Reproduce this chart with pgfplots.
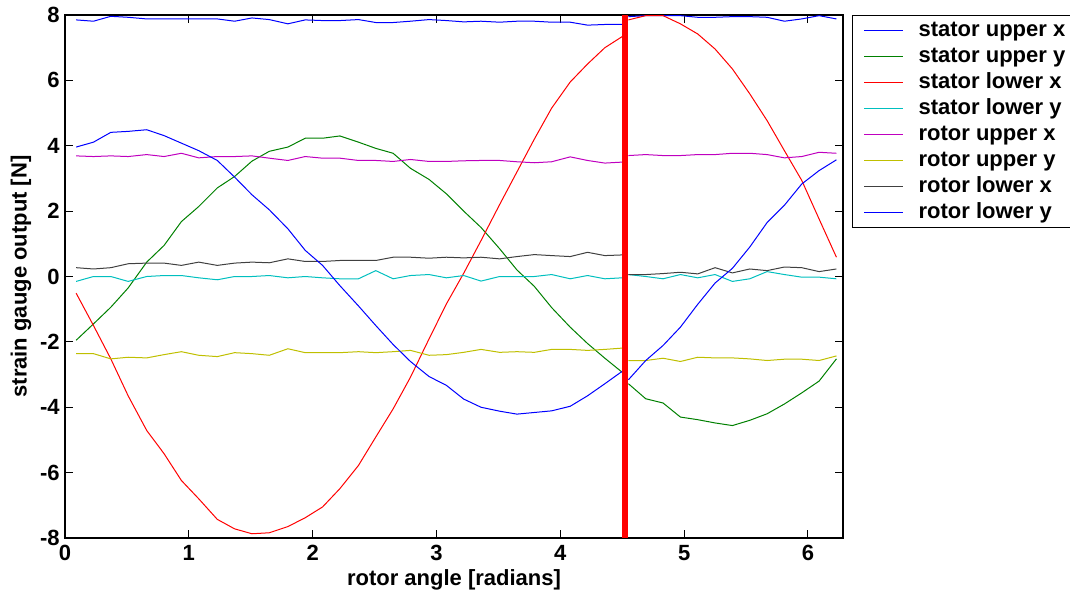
\documentclass[border=0pt]{standalone}
\usepackage{fontspec}
\setmainfont{Liberation Sans}
\usepackage{pgfplots}
\usepackage{pgfplotstable}
\pgfplotsset{compat=1.18}

\definecolor{mblue}{RGB}{0,0,255}
\definecolor{mgreen}{RGB}{0,128,0}
\definecolor{mred}{RGB}{255,0,0}
\definecolor{mcyan}{RGB}{0,191,191}
\definecolor{mmagenta}{RGB}{191,0,191}
\definecolor{myellow}{RGB}{191,191,0}
\definecolor{mblack}{RGB}{64,64,64}

% rotor angle and the eight gauges; the nan row breaks the lines at the marker
\pgfplotstableread{
x    sux   suy   slx   sly   rux   ruy   rlx   rly
0.09 7.85 -1.95 -0.51 -0.15 3.69 -2.36 0.27 3.96
0.23 7.81 -1.45 -1.50 0.00 3.67 -2.36 0.23 4.11
0.37 7.96 -0.94 -2.52 0.00 3.69 -2.52 0.27 4.41
0.51 7.93 -0.35 -3.65 -0.15 3.67 -2.47 0.39 4.44
0.66 7.88 0.44 -4.71 0.00 3.73 -2.49 0.41 4.49
0.80 7.88 0.95 -5.42 0.03 3.67 -2.39 0.41 4.31
0.94 7.88 1.68 -6.24 0.03 3.77 -2.30 0.34 4.08
1.08 7.88 2.14 -6.80 -0.04 3.63 -2.41 0.44 3.85
1.23 7.88 2.71 -7.43 -0.10 3.67 -2.45 0.34 3.55
1.37 7.81 3.06 -7.72 0.00 3.67 -2.33 0.41 3.04
1.51 7.91 3.53 -7.87 0.00 3.69 -2.36 0.44 2.50
1.65 7.86 3.83 -7.84 0.03 3.62 -2.41 0.42 2.04
1.80 7.73 3.96 -7.65 -0.04 3.55 -2.21 0.54 1.46
1.94 7.85 4.23 -7.38 0.00 3.67 -2.33 0.46 0.80
2.08 7.83 4.23 -7.05 -0.04 3.62 -2.33 0.46 0.34
2.22 7.83 4.30 -6.49 -0.07 3.62 -2.33 0.49 -0.28
2.37 7.86 4.11 -5.78 -0.07 3.55 -2.30 0.49 -0.90
2.51 7.77 3.92 -4.91 0.18 3.55 -2.33 0.49 -1.50
2.65 7.77 3.77 -4.05 -0.07 3.52 -2.30 0.59 -2.08
2.79 7.81 3.31 -3.08 0.03 3.58 -2.26 0.59 -2.60
2.94 7.86 2.97 -1.91 0.06 3.52 -2.41 0.56 -3.06
3.08 7.83 2.53 -0.84 -0.04 3.52 -2.39 0.59 -3.33
3.22 7.79 2.00 0.10 0.03 3.54 -2.32 0.57 -3.75
3.36 7.81 1.50 1.10 -0.14 3.55 -2.23 0.59 -4.00
3.51 7.78 0.85 2.20 0.00 3.55 -2.32 0.54 -4.12
3.65 7.81 0.20 3.20 0.00 3.51 -2.30 0.61 -4.21
3.79 7.81 -0.30 4.20 0.00 3.48 -2.32 0.67 -4.16
3.93 7.78 -0.95 5.15 0.06 3.51 -2.23 0.64 -4.11
4.08 7.78 -1.55 5.95 -0.07 3.66 -2.23 0.61 -3.97
4.22 7.69 -2.05 6.50 0.03 3.55 -2.26 0.74 -3.65
4.36 7.71 -2.50 7.00 -0.07 3.47 -2.23 0.64 -3.28
4.50 7.71 -2.93 7.34 -0.04 3.50 -2.19 0.66 -2.90
4.52 nan nan nan nan nan nan nan nan
4.55 7.95 -3.28 7.85 0.06 3.70 -2.57 0.06 -3.16
4.69 7.98 -3.74 7.98 0.00 3.73 -2.57 0.06 -2.57
4.83 7.98 -3.87 7.98 -0.07 3.70 -2.50 0.09 -2.11
4.97 7.98 -4.30 7.73 0.06 3.70 -2.60 0.13 -1.55
5.11 7.93 -4.38 7.42 -0.04 3.73 -2.47 0.08 -0.85
5.25 7.93 -4.48 6.96 0.06 3.73 -2.49 0.27 -0.20
5.39 7.95 -4.56 6.35 -0.15 3.77 -2.49 0.11 0.25
5.53 7.95 -4.40 5.59 -0.07 3.77 -2.52 0.23 0.90
5.67 7.93 -4.20 4.77 0.15 3.73 -2.57 0.18 1.65
5.81 7.81 -3.90 3.85 0.06 3.63 -2.53 0.29 2.18
5.95 7.88 -3.56 2.94 -0.02 3.67 -2.53 0.27 2.83
6.09 7.98 -3.20 1.76 -0.02 3.80 -2.57 0.15 3.24
6.23 7.88 -2.52 0.59 -0.07 3.77 -2.43 0.23 3.57
}\gauges

\begin{document}
\begin{tikzpicture}
\path[use as bounding box] (-32.5pt,-29pt) rectangle (502.5pt,269pt);
\begin{axis}[
    scale only axis,
    width=389pt, height=261.5pt,
    xmin=0, xmax=6.2832, ymin=-8, ymax=8,
    xtick={0,1,...,6}, ytick={-8,-6,...,8},
    tick align=inside, major tick length=4pt,
    axis line style={line width=0.6pt},
    every tick/.style={black, line width=0.5pt},
    font=\fontsize{11}{13}\selectfont\bfseries,
    /pgf/number format/assume math mode=true,
    yticklabel style={inner sep=2.5pt},
    xticklabel style={inner sep=3.5pt},
    xlabel={rotor angle [radians]},
    ylabel={strain gauge output [N]},
    xlabel style={at={(axis description cs:0.5,-0.080)}, anchor=center},
    ylabel style={at={(axis description cs:-0.0566,0.5)}, anchor=center},
    unbounded coords=jump,
    legend cell align=left,
    legend image code/.code={\draw[line width=0.5pt,#1] (0pt,0pt) -- (19.5pt,0pt);},
    legend style={at={(1,1)}, anchor=north west, xshift=4.5pt,
        draw=black, line width=0.6pt, inner xsep=5.5pt, inner ysep=1pt,
        column sep=7.5pt, row sep=0pt,
        font=\fontsize{11}{13}\selectfont\bfseries,
        nodes={inner sep=0pt, text height=9.2pt, text depth=3.8pt}},
    every axis plot/.append style={line width=0.5pt},
]
\addplot[mblue] table[x=x, y=sux] {\gauges};
\addlegendentry{stator upper x}
\addplot[mgreen] table[x=x, y=suy] {\gauges};
\addlegendentry{stator upper y}
\addplot[mred] table[x=x, y=slx] {\gauges};
\addlegendentry{stator lower x}
\addplot[mcyan] table[x=x, y=sly] {\gauges};
\addlegendentry{stator lower y}
\addplot[mmagenta] table[x=x, y=rux] {\gauges};
\addlegendentry{rotor upper x}
\addplot[myellow] table[x=x, y=ruy] {\gauges};
\addlegendentry{rotor upper y}
\addplot[mblack] table[x=x, y=rlx] {\gauges};
\addlegendentry{rotor lower x}
\addplot[mblue] table[x=x, y=rly] {\gauges};
\addlegendentry{rotor lower y}
\addplot[mred, line width=3pt, forget plot] coordinates {(4.52,-8) (4.52,8)};
\end{axis}
\end{tikzpicture}
\end{document}
